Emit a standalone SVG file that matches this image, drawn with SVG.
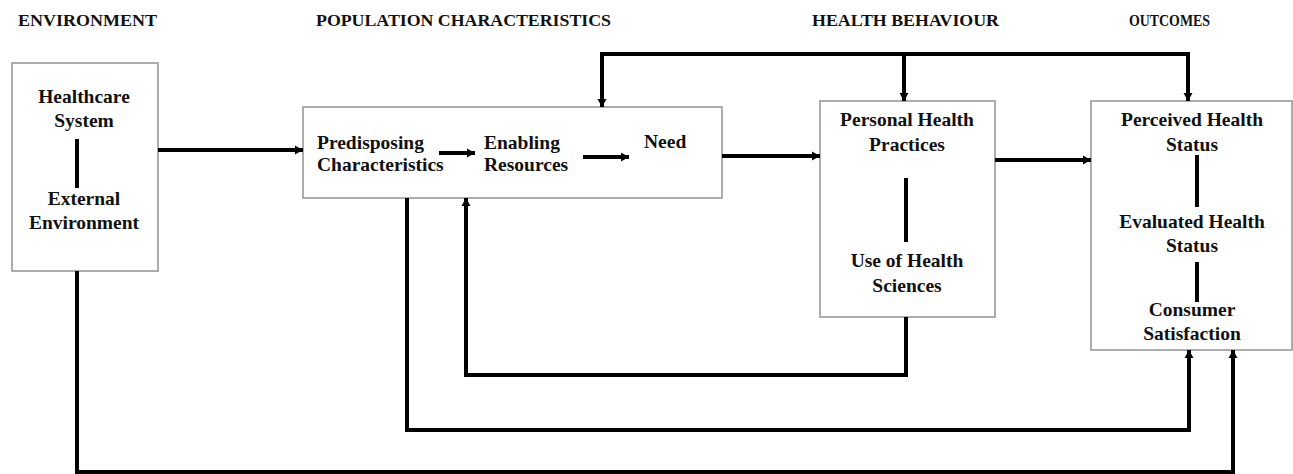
<svg xmlns="http://www.w3.org/2000/svg" width="1293" height="474" viewBox="0 0 1293 474">
<style>
.box{fill:#fff;stroke:#999;stroke-width:1.6}
.t{font-family:"Liberation Serif","Times New Roman",serif;font-weight:bold;font-size:19.5px;fill:#111;text-anchor:middle}
.tl{font-family:"Liberation Serif","Times New Roman",serif;font-weight:bold;font-size:19.5px;fill:#111}
.h{font-family:"Liberation Serif","Times New Roman",serif;font-weight:bold;font-size:16px;fill:#111}
.c{fill:none;stroke:#000;stroke-width:4}
.ca{fill:none;stroke:#000;stroke-width:4;marker-end:url(#ah)}
.s{fill:none;stroke:#000;stroke-width:4}
</style>
<defs>
<marker id="ah" markerUnits="userSpaceOnUse" markerWidth="9" markerHeight="10" refX="8" refY="5" orient="auto">
<path d="M0,0.5 L8,5 L0,9.5 z" fill="#000"/>
</marker>
</defs>
<g id="headers">
<text class="h" x="18" y="26" textLength="139" lengthAdjust="spacingAndGlyphs">ENVIRONMENT</text>
<text class="h" x="316" y="26" textLength="295" lengthAdjust="spacingAndGlyphs">POPULATION CHARACTERISTICS</text>
<text class="h" x="812" y="26" textLength="187" lengthAdjust="spacingAndGlyphs">HEALTH BEHAVIOUR</text>
<text class="h" x="1129" y="26" textLength="81" lengthAdjust="spacingAndGlyphs">OUTCOMES</text>
</g>
<g id="environment">
<rect class="box" x="12" y="63" width="146" height="208"/>
<text class="t" x="84" y="103">Healthcare</text>
<text class="t" x="84" y="127">System</text>
<line class="s" x1="77" y1="139" x2="77" y2="188"/>
<text class="t" x="84" y="205">External</text>
<text class="t" x="84" y="229">Environment</text>
</g>
<g id="population">
<rect class="box" x="303" y="107" width="419" height="91"/>
<text class="tl" x="317" y="149">Predisposing</text>
<text class="tl" x="317" y="171">Characteristics</text>
<text class="tl" x="484" y="149">Enabling</text>
<text class="tl" x="484" y="171">Resources</text>
<text class="tl" x="644" y="148">Need</text>
</g>
<g id="behaviour">
<rect class="box" x="820" y="101" width="175" height="216"/>
<text class="t" x="907" y="126">Personal Health</text>
<text class="t" x="907" y="151">Practices</text>
<line class="s" x1="906" y1="178" x2="906" y2="242"/>
<text class="t" x="907" y="267">Use of Health</text>
<text class="t" x="907" y="292">Sciences</text>
</g>
<g id="outcomes">
<rect class="box" x="1091" y="101" width="201" height="249"/>
<text class="t" x="1192" y="126">Perceived Health</text>
<text class="t" x="1192" y="151">Status</text>
<line class="s" x1="1197" y1="155" x2="1197" y2="207"/>
<text class="t" x="1192" y="228">Evaluated Health</text>
<text class="t" x="1192" y="252">Status</text>
<line class="s" x1="1197" y1="262" x2="1197" y2="302"/>
<text class="t" x="1192" y="316">Consumer</text>
<text class="t" x="1192" y="340">Satisfaction</text>
</g>
<g id="connectors">
<path class="ca" d="M158,150 H303"/>
<path class="ca" d="M439,153 H475"/>
<path class="ca" d="M583,157 H629"/>
<path class="ca" d="M722,156 H820"/>
<path class="ca" d="M995,160 H1091"/>
<path class="c" d="M602,54 H1188"/>
<path class="ca" d="M602,52 V107"/>
<path class="ca" d="M904,54 V101"/>
<path class="ca" d="M1188,52 V101"/>
<path class="ca" d="M906,317 V375 H466 V198"/>
<path class="ca" d="M407,198 V430 H1189 V350"/>
<path class="ca" d="M77,271 V472 H1233 V350"/>
</g>
</svg>
